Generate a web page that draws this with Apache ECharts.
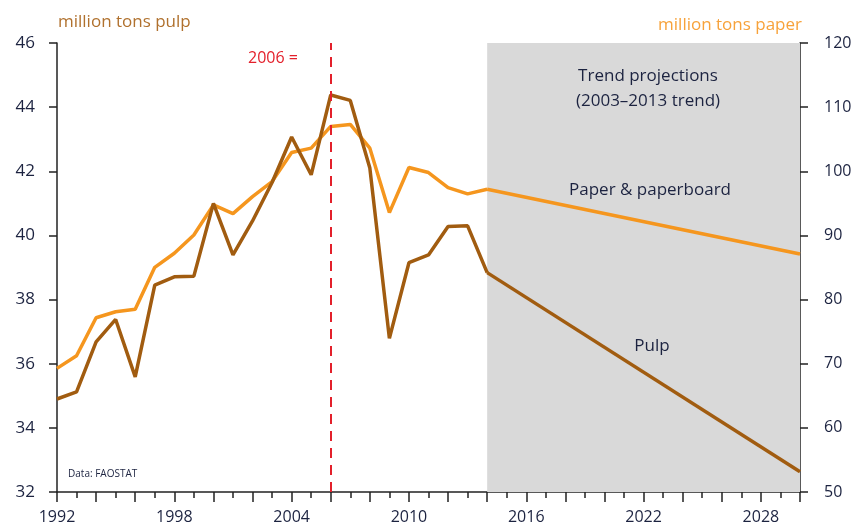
<!DOCTYPE html>
<html><head><meta charset="utf-8">
<script src="https://cdn.jsdelivr.net/npm/echarts@6/dist/echarts.min.js"></script>
<style>html,body{margin:0;padding:0;background:#fff}#c{width:855px;height:527px}</style>
</head><body><div id="c"></div>
<script>
const years = [1992,1993,1994,1995,1996,1997,1998,1999,2000,2001,2002,2003,2004,2005,2006,2007,2008,2009,2010,2011,2012,2013,2014];
const pulp = [34.90,35.12,36.68,37.38,35.59,38.45,38.71,38.73,41.00,39.39,40.45,41.65,43.07,41.89,44.38,44.21,42.10,36.79,39.15,39.39,40.28,40.30,38.84];
const paper = [69.27,71.23,77.17,78.10,78.50,85.03,87.22,90.07,94.76,93.40,96.06,98.40,102.92,103.61,107.00,107.30,103.60,93.56,100.58,99.80,97.46,96.48,97.20];
const trendYears = [2014,2030];
const pulpTrend = [38.84,32.63];
const paperTrend = [97.20,87.11];
const xTickLabels = [1992,1998,2004,2010,2016,2022,2028];
const projectionSpan = [2014,2030];
const markYear = 2006;

const pulpColor = '#A15C10';
const paperColor = '#F5961E';
const txt = '#1c2340';
const font = 'Open Sans';

const pairs = (xs, ys) => xs.map((x,i)=>[x, ys[i]]);

const chart = echarts.init(document.getElementById('c'), null, {renderer:'canvas'});
chart.setOption({
  animation:false,
  textStyle:{fontFamily:font},
  grid:{left:57,right:55,top:43,bottom:35},
  xAxis:{type:'value',min:1992,max:2030,interval:2,
    axisLine:{show:true,lineStyle:{color:'#222',width:1.5}},
    axisTick:{show:true,length:10,lineStyle:{color:'#222',width:1.5}},
    minorTick:{show:true,splitNumber:2,length:6,lineStyle:{color:'#222',width:1.5}},
    splitLine:{show:false},
    axisLabel:{margin:17,fontSize:16,color:txt,fontFamily:font,
      formatter:v=>xTickLabels.includes(v)?String(v):''}
  },
  yAxis:[
    {type:'value',min:32,max:46,interval:2,position:'left',
      axisLine:{show:true,lineStyle:{color:'#222',width:1.5}},
      axisTick:{show:true,length:8,lineStyle:{color:'#222',width:1.5}},
      splitLine:{show:false},
      axisLabel:{margin:22,fontSize:17,color:txt,fontFamily:font}},
    {type:'value',min:50,max:120,interval:10,position:'right',
      axisLine:{show:true,lineStyle:{color:'#222',width:1.5}},
      axisTick:{show:true,length:8,lineStyle:{color:'#222',width:1.5}},
      splitLine:{show:false},
      axisLabel:{margin:24,fontSize:16,color:txt,fontFamily:font}}
  ],
  series:[
    {type:'line',data:[],z:1,
      markArea:{silent:true,itemStyle:{color:'#D9D9D9'},data:[[{xAxis:projectionSpan[0]},{xAxis:projectionSpan[1]}]]}},
    {type:'line',data:[],z:5,
      markLine:{silent:true,symbol:'none',label:{show:false},
        lineStyle:{color:'#E3202B',type:[10,7],width:2},data:[{xAxis:markYear}]}},
    {name:'Paper',type:'line',yAxisIndex:1,data:pairs(years,paper),showSymbol:false,
      lineStyle:{color:paperColor,width:3.5},z:3},
    {name:'PaperTrend',type:'line',yAxisIndex:1,data:pairs(trendYears,paperTrend),showSymbol:false,
      lineStyle:{color:paperColor,width:3.5},z:3},
    {name:'Pulp',type:'line',yAxisIndex:0,data:pairs(years,pulp),showSymbol:false,
      lineStyle:{color:pulpColor,width:3.5},z:4},
    {name:'PulpTrend',type:'line',yAxisIndex:0,data:pairs(trendYears,pulpTrend),showSymbol:false,
      lineStyle:{color:pulpColor,width:3.5},z:4}
  ],
  graphic:[
    {type:'text',z:100,left:58,top:14,style:{text:'million tons pulp',fill:'#B0712E',font:'17px "Open Sans"'}},
    {type:'text',z:100,right:53,top:17,style:{text:'million tons paper',fill:'#F7A23A',font:'17px "Open Sans"'}},
    {type:'text',z:100,left:248,top:50,style:{text:'2006 =',fill:'#E3202B',font:'16px "Open Sans"'}},
    {type:'text',z:100,x:648,y:64,style:{text:'Trend projections\n(2003–2013 trend)',fill:txt,font:'17px "Open Sans"',align:'center',lineHeight:25}},
    {type:'text',z:100,x:650,y:182,style:{text:'Paper & paperboard',fill:txt,font:'17px "Open Sans"',align:'center'}},
    {type:'text',z:100,x:652,y:338,style:{text:'Pulp',fill:txt,font:'17px "Open Sans"',align:'center'}},
    {type:'text',z:100,left:68,top:469,style:{text:'Data: FAOSTAT',fill:txt,font:'10px "Open Sans"'}}
  ]
});
</script></body></html>
